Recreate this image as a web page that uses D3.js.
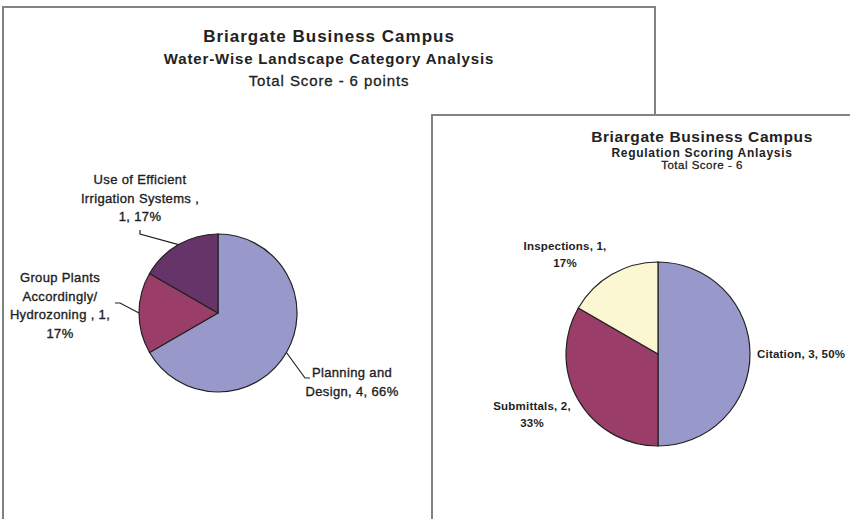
<!DOCTYPE html>
<html lang="en">
<head>
    <meta charset="UTF-8">
    <title>Briargate Business Campus - Pie Charts</title>
    <script src="https://d3js.org/d3.v7.min.js"></script>
    <style>
        body {
            margin: 0;
            background-color: #fff;
            font-family: 'Liberation Sans', Arial, sans-serif;
        }
        svg { display: block; }
        .panel { fill: #fff; stroke: #828282; stroke-width: 2; }
        .title { fill: #222; text-anchor: middle; }
        .title.thin { stroke: #222; stroke-width: 0.3; }
        .slice { stroke: #222; stroke-width: 1.2; }
        .leader { fill: none; stroke: #222; stroke-width: 1.2; }
        .label { fill: #1e1e1e; }
        .label.thin { stroke: #1e1e1e; stroke-width: 0.35; }
    </style>
</head>
<body>
    <div id="chart"></div>

    <script>
        // left chart: water-wise landscape categories
        var leftCategories = ["Planning and Design", "Group Plants Accordingly/ Hydrozoning", "Use of Efficient Irrigation Systems"];
        var leftValues = [4, 1, 1];
        var leftLabels = [
            ["Planning and", "Design, 4, 66%"],
            ["Group Plants", "Accordingly/", "Hydrozoning , 1,", "17%"],
            ["Use of Efficient", "Irrigation Systems ,", "1, 17%"]
        ];
        var leftColors = ["#9898ca", "#9a3e69", "#663468"];

        // right chart: regulation scoring
        var rightCategories = ["Citation", "Submittals", "Inspections"];
        var rightValues = [3, 2, 1];
        var rightLabels = [
            ["Citation, 3, 50%"],
            ["Submittals, 2,", "33%"],
            ["Inspections, 1,", "17%"]
        ];
        var rightColors = ["#9898ca", "#9a3e69", "#fbf7d2"];

        // label placement relative to the slice's outer edge point
        var leftLayout = [
            { leader: [[18.6, 25.5], [23.6, 25.5]], dx: 65.6, dy: 24.5, anchor: "middle" },
            { leader: [[-19, -10], [-24, -10]], dx: -79, dy: -31, anchor: "middle" },
            { leader: [[-38.5, -10.6], [-38.5, -14.6]], dx: -38.5, dy: -60.6, anchor: "middle" }
        ];
        var rightLayout = [
            { dx: 7, dy: 4, anchor: "start" },
            { dx: -46.3, dy: 10, anchor: "middle" },
            { dx: -47, dy: -24.3, anchor: "middle" }
        ];

        var svg = d3.select("#chart").append("svg")
            .attr("width", 850)
            .attr("height", 519);

        function drawTitles(cx, lines) {
            lines.forEach(function(l) {
                svg.append("text")
                    .attr("class", l.bold ? "title" : "title thin")
                    .attr("x", cx)
                    .attr("y", l.y)
                    .style("font-size", l.size + "px")
                    .style("font-weight", l.bold ? "bold" : "normal")
                    .style("letter-spacing", l.ls + "px")
                    .text(l.text);
            });
        }

        function drawPie(cx, cy, r, values, colors, labels, layout, font) {
            var g = svg.append("g").attr("transform", "translate(" + cx + "," + cy + ")");
            var pie = d3.pie().sort(null).value(function(d) { return d; });
            var arcs = pie(values);
            var arc = d3.arc().innerRadius(0).outerRadius(r);
            var edge = d3.arc().innerRadius(r).outerRadius(r);

            g.selectAll(".slice")
                .data(arcs)
                .enter().append("path")
                .attr("class", "slice")
                .attr("d", arc)
                .attr("fill", function(d, i) { return colors[i]; });

            arcs.forEach(function(d, i) {
                var e = edge.centroid(d);
                var lay = layout[i];
                if (lay.leader) {
                    var pts = [e].concat(lay.leader.map(function(p) { return [e[0] + p[0], e[1] + p[1]]; }));
                    g.append("path")
                        .attr("class", "leader")
                        .attr("d", d3.line()(pts));
                }
                var t = g.append("text")
                    .attr("class", font.weight == "bold" ? "label" : "label thin")
                    .attr("text-anchor", lay.anchor)
                    .style("font-size", font.size + "px")
                    .style("font-weight", font.weight)
                    .style("letter-spacing", font.ls + "px");
                labels[i].forEach(function(line, k) {
                    t.append("tspan")
                        .attr("x", e[0] + lay.dx)
                        .attr("y", e[1] + lay.dy + k * font.lh)
                        .text(line);
                });
            });
        }

        // panels
        svg.append("rect").attr("class", "panel")
            .attr("x", 3).attr("y", 7).attr("width", 652).attr("height", 540);
        drawTitles(329, [
            { text: "Briargate Business Campus", y: 42, size: 17, bold: true, ls: 1 },
            { text: "Water-Wise Landscape Category Analysis", y: 64, size: 15, bold: true, ls: 0.85 },
            { text: "Total Score - 6 points", y: 86, size: 15, bold: false, ls: 0.9 }
        ]);
        drawPie(218, 313, 79, leftValues, leftColors, leftLabels, leftLayout,
            { size: 13, weight: "normal", ls: 0.35, lh: 18.6 });

        svg.append("rect").attr("class", "panel")
            .attr("x", 432).attr("y", 115).attr("width", 460).attr("height", 440);
        drawTitles(702, [
            { text: "Briargate Business Campus", y: 142, size: 15.5, bold: true, ls: 0.6 },
            { text: "Regulation Scoring Anlaysis", y: 157, size: 12, bold: true, ls: 0.7 },
            { text: "Total Score - 6", y: 168.5, size: 11.5, bold: false, ls: 0.5 }
        ]);
        drawPie(658, 354, 92, rightValues, rightColors, rightLabels, rightLayout,
            { size: 11.5, weight: "bold", ls: 0.2, lh: 16.5 });
    </script>
</body>
</html>
